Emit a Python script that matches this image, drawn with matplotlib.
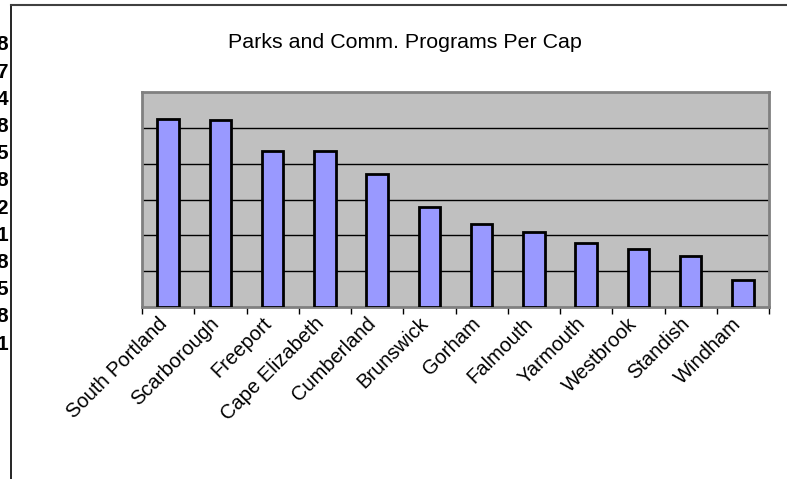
import matplotlib
matplotlib.use("Agg")
import matplotlib.pyplot as plt
import matplotlib.transforms as mtransforms
from matplotlib.lines import Line2D

# Per-capita spending
towns = ["South Portland", "Scarborough", "Freeport", "Cape Elizabeth",
         "Cumberland", "Brunswick", "Gorham", "Falmouth", "Yarmouth",
         "Westbrook", "Standish", "Windham"]
values = [5.26, 5.22, 4.35, 4.34, 3.71, 2.78, 2.31, 2.09, 1.80, 1.61, 1.42, 0.74]

# clipped digits showing at the left edge of the picture
edge_digits = ["8", "7", "4", "8", "5", "8", "2", "1", "8", "5", "8", "1"]

plt.rcParams['font.family'] = ['Liberation Sans', 'DejaVu Sans']

fig = plt.figure(figsize=(7.87, 4.79), dpi=100)
W, H = 787, 479

ax = fig.add_axes([142 / W, 1 - 307 / H, 627 / W, 215 / H])
ax.set_facecolor('#c0c0c0')

x = list(range(len(towns)))
ax.bar(x, values, width=0.41, color='#9999ff', edgecolor='black', linewidth=2, zorder=3)

ax.set_xlim(-0.5, len(towns) - 0.5)
ax.set_ylim(0, 6)
ax.set_yticks([1, 2, 3, 4, 5])
ax.yaxis.grid(True, color='black', linewidth=1)
ax.tick_params(axis='y', left=False, labelleft=False)

# ticks between categories, labels at the bar centres
ax.set_xticks([i - 0.5 for i in range(len(towns) + 1)])
ax.set_xticklabels([])
ax.tick_params(axis='x', which='major', direction='out', length=5, width=1, color='black')
ax.set_xticks(x, minor=True)
ax.set_xticklabels(towns, minor=True, rotation=45, ha='right', va='top',
                   rotation_mode='anchor', fontsize=14.5)
ax.tick_params(axis='x', which='minor', length=0, pad=5)

# nudge labels left so their ends sit near the bar centres
shift = mtransforms.ScaledTranslation(-11 / 100, 0, fig.dpi_scale_trans)
for lbl in ax.get_xticklabels(minor=True):
    lbl.set_transform(lbl.get_transform() + shift)

for side in ['top', 'right', 'left', 'bottom']:
    ax.spines[side].set_color('#808080')
    ax.spines[side].set_linewidth(2)

fig.text(405 / W, 1 - 43 / H, "Parks and Comm. Programs Per Cap",
         ha='center', va='center', fontsize=15.4)

# outer frame lines (left and top)
fig.add_artist(Line2D([11 / W, 11 / W], [0, 1 - 5 / H], color='black', linewidth=1.2))
fig.add_artist(Line2D([11 / W, 1], [1 - 5 / H, 1 - 5 / H], color='#404040', linewidth=1.5))

for i, d in enumerate(edge_digits):
    yy = 45 + i * 27.2
    fig.text(8 / W, 1 - yy / H, d, ha='right', va='center', fontsize=15,
             fontweight='bold')

fig.savefig("out.png", dpi=100)
